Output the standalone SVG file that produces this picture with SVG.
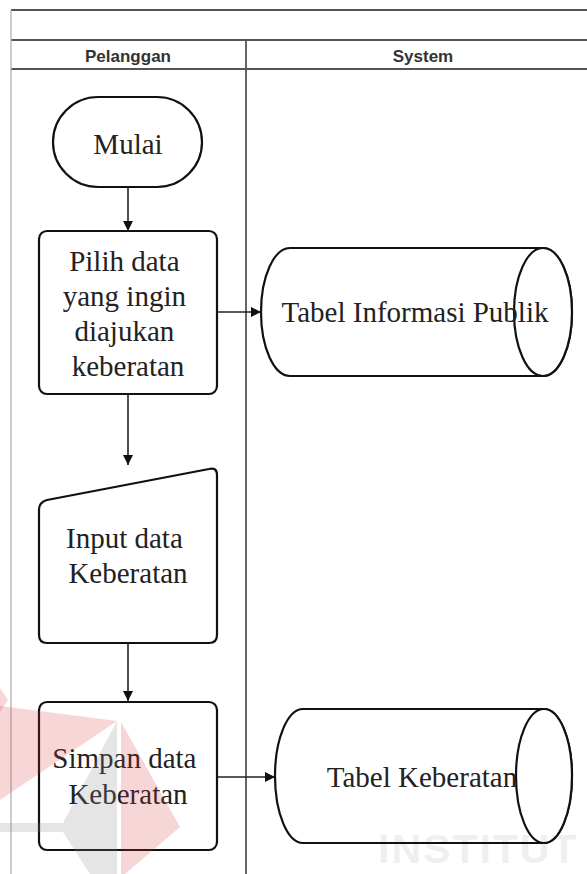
<svg xmlns="http://www.w3.org/2000/svg" width="587" height="874" viewBox="0 0 587 874">
  <style>
    .lane { fill: none; stroke: #555; stroke-width: 1.8; }
    .edge { fill: none; stroke: #aaa; stroke-width: 1.2; }
    .hdr { font-family: "Liberation Sans", Arial, sans-serif; font-size: 17px; font-weight: bold; fill: #333; text-anchor: middle; }
    .shape { fill: #fff; stroke: #111; stroke-width: 2.2; }
    .lbl { font-family: "Liberation Serif", "Times New Roman", serif; font-size: 29px; fill: #222; text-anchor: middle; }
    .conn { fill: none; stroke: #222; stroke-width: 1.6; }
    .mark-red { fill: #d9303c; opacity: 0.2; }
    .mark-grey { fill: #888; opacity: 0.22; }
  </style>
  <defs>
    <marker id="arrow" markerUnits="userSpaceOnUse" markerWidth="11" markerHeight="11" refX="10" refY="5" orient="auto">
      <path d="M0,0 L10,5 L0,10 Z" fill="#111"/>
    </marker>
  </defs>

  <rect width="587" height="874" fill="#fff"/>

  <!-- swimlane frame -->
  <g id="pool">
    <line x1="11" y1="10" x2="587" y2="10" class="lane" stroke-width="1.5" stroke="#666"/>
    <line x1="11" y1="40" x2="587" y2="40" class="lane"/>
    <line x1="11" y1="69" x2="587" y2="69" class="lane"/>
    <line x1="11" y1="10" x2="11" y2="874" class="edge"/>
    <line x1="246" y1="40" x2="246" y2="874" class="lane" stroke-width="1.5"/>
    <text x="128" y="62" class="hdr">Pelanggan</text>
    <text x="423" y="62" class="hdr">System</text>
  </g>

  <!-- connectors -->
  <g id="connectors">
    <line x1="128" y1="187" x2="128" y2="231" class="conn" marker-end="url(#arrow)"/>
    <line x1="217" y1="312" x2="261" y2="312" class="conn" marker-end="url(#arrow)"/>
    <line x1="128" y1="394" x2="128" y2="465" class="conn" marker-end="url(#arrow)"/>
    <line x1="128" y1="643" x2="128" y2="701" class="conn" marker-end="url(#arrow)"/>
    <line x1="217" y1="777" x2="275" y2="777" class="conn" marker-end="url(#arrow)"/>
  </g>

  <g id="mulai">
    <rect x="53" y="97" width="149" height="90" rx="45" ry="45" class="shape"/>
    <text x="128" y="154" class="lbl">Mulai</text>
  </g>

  <g id="pilih-data">
    <rect x="39" y="231" width="178" height="163" rx="8" ry="8" class="shape"/>
    <text class="lbl">
      <tspan x="128" y="271">Pilih data</tspan>
      <tspan x="128" y="306">yang ingin</tspan>
      <tspan x="128" y="341">diajukan</tspan>
      <tspan x="128" y="376">keberatan</tspan>
    </text>
  </g>

  <g id="tabel-informasi-publik">
    <path d="M290,248 L543,248 A29,64 0 0 1 543,376 L290,376 A29,64 0 0 1 290,248 Z" class="shape"/>
    <ellipse cx="543" cy="312" rx="29" ry="64" class="shape"/>
    <text x="415" y="322" class="lbl">Tabel Informasi Publik</text>
  </g>

  <g id="input-data">
    <path d="M39,510 Q39,502 47,500 L209,469 Q217,467 217,475 L217,635 Q217,643 209,643 L47,643 Q39,643 39,635 Z" class="shape"/>
    <text class="lbl">
      <tspan x="128" y="548">Input data</tspan>
      <tspan x="128" y="583">Keberatan</tspan>
    </text>
  </g>

  <g id="simpan-data">
    <rect x="39" y="702" width="178" height="148" rx="8" ry="8" class="shape"/>
    <text class="lbl">
      <tspan x="128" y="768">Simpan data</tspan>
      <tspan x="128" y="804">Keberatan</tspan>
    </text>
  </g>

  <g id="tabel-keberatan">
    <path d="M303,709 L544,709 A28,67 0 0 1 544,843 L303,843 A28,67 0 0 1 303,709 Z" class="shape"/>
    <ellipse cx="544" cy="776" rx="28" ry="67" class="shape"/>
    <text x="422" y="787" class="lbl">Tabel Keberatan</text>
  </g>

  <!-- faint institutional watermark -->
  <g id="watermark">
    <polygon points="0,706 117,721 0,800" class="mark-red"/>
    <polygon points="0,688 8,700 0,712" class="mark-red"/>
    <polygon points="121,722 180,827 125,874 121,874" class="mark-red"/>
    <polygon points="117,721 63,823 0,823 0,832 63,832 90,874 117,874" class="mark-grey"/>
    <text x="378" y="863" font-family="Liberation Sans, Arial, sans-serif" font-size="41" font-weight="bold" letter-spacing="2" fill="#000" opacity="0.06">INSTITUT</text>
  </g>
</svg>
